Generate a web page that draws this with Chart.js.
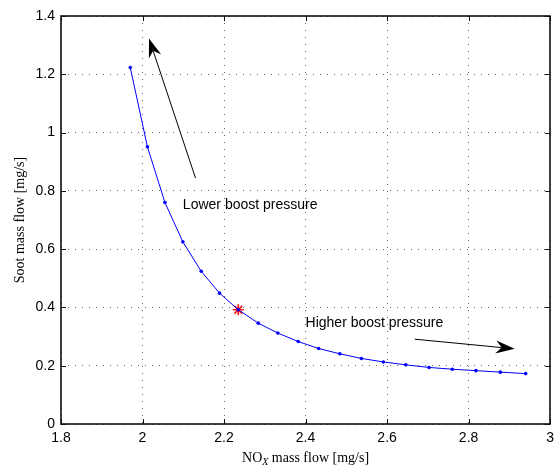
<!DOCTYPE html>
<html>
<head>
<meta charset="utf-8">
<script src="https://cdn.jsdelivr.net/npm/chart.js@4.4.1/dist/chart.umd.min.js"></script>
<style>
  html, body { margin: 0; padding: 0; background: #fff; }
  #wrap { width: 560px; height: 469px; }
</style>
</head>
<body>
<div id="wrap"><canvas id="chart" width="560" height="469"></canvas></div>
<script>
// NOx / soot trade-off
const noxFlow = [1.970, 2.012, 2.055, 2.099, 2.144, 2.189, 2.235, 2.284, 2.332, 2.382,
  2.432, 2.484, 2.537, 2.591, 2.646, 2.703, 2.760, 2.818, 2.878, 2.940];
const sootFlow = [1.223, 0.951, 0.760, 0.625, 0.524, 0.449, 0.392, 0.346, 0.312, 0.283,
  0.259, 0.241, 0.225, 0.213, 0.203, 0.194, 0.188, 0.183, 0.178, 0.173];

// operating point (red star)
const markedNox = [2.235];
const markedSoot = [0.392];

// annotations: [tailX, tailY, headX, headY]
const arrowLower = [2.130, 0.844, 2.016, 1.323];
const arrowHigher = [2.668, 0.291, 2.913, 0.258];
const labelLower = ["Lower boost pressure", 2.099, 0.751];
const labelHigher = ["Higher boost pressure", 2.400, 0.346];

const xTitle = ["NO", "X", " mass flow [mg/s]"];
const yTitle = "Soot mass flow [mg/s]";

function toPoints(xs, ys) {
  return xs.map((x, i) => ({ x: x, y: ys[i] }));
}

function fmt(v) {
  return String(Math.round(v * 10) / 10);
}

function drawArrow(ctx, x1, y1, x2, y2) {
  const ang = Math.atan2(y2 - y1, x2 - x1);
  const len = 19, half = 6.5, back = 13;
  ctx.save();
  ctx.strokeStyle = "#000";
  ctx.fillStyle = "#000";
  ctx.lineWidth = 1;
  ctx.beginPath();
  ctx.moveTo(x1, y1);
  ctx.lineTo(x2 - Math.cos(ang) * back, y2 - Math.sin(ang) * back);
  ctx.stroke();
  ctx.translate(x2, y2);
  ctx.rotate(ang);
  ctx.beginPath();
  ctx.moveTo(0, 0);
  ctx.lineTo(-len, -half);
  ctx.lineTo(-back, 0);
  ctx.lineTo(-len, half);
  ctx.closePath();
  ctx.fill();
  ctx.restore();
}

const framePlugin = {
  id: "frame",
  afterDraw(chart) {
    const ctx = chart.ctx;
    const a = chart.chartArea;
    const xs = chart.scales.x, ys = chart.scales.y;

    ctx.save();
    // box
    ctx.strokeStyle = "#111";
    ctx.lineWidth = 1.6;
    ctx.strokeRect(Math.round(a.left), Math.round(a.top),
      Math.round(a.right - a.left), Math.round(a.bottom - a.top));
    // inner ticks on all sides
    ctx.lineWidth = 1;
    ctx.beginPath();
    xs.ticks.forEach(t => {
      const px = Math.round(xs.getPixelForValue(t.value)) + 0.5;
      ctx.moveTo(px, a.bottom); ctx.lineTo(px, a.bottom - 5);
      ctx.moveTo(px, a.top); ctx.lineTo(px, a.top + 5);
    });
    ys.ticks.forEach(t => {
      const py = Math.round(ys.getPixelForValue(t.value)) + 0.5;
      ctx.moveTo(a.left, py); ctx.lineTo(a.left + 5, py);
      ctx.moveTo(a.right, py); ctx.lineTo(a.right - 5, py);
    });
    ctx.stroke();

    // arrows
    [arrowLower, arrowHigher].forEach(ar => {
      drawArrow(ctx,
        xs.getPixelForValue(ar[0]), ys.getPixelForValue(ar[1]),
        xs.getPixelForValue(ar[2]), ys.getPixelForValue(ar[3]));
    });

    // text labels
    ctx.fillStyle = "#000";
    ctx.font = "14px 'Liberation Sans', Arial, sans-serif";
    ctx.textAlign = "left";
    ctx.textBaseline = "middle";
    [labelLower, labelHigher].forEach(l => {
      ctx.fillText(l[0], xs.getPixelForValue(l[1]), ys.getPixelForValue(l[2]));
    });

    // x title with subscript
    const serif = "'Liberation Serif', 'Times New Roman', serif";
    const big = "14px " + serif, small = "italic 10px " + serif;
    ctx.font = big;
    const w0 = ctx.measureText(xTitle[0]).width;
    const w2 = ctx.measureText(xTitle[2]).width;
    ctx.font = small;
    const w1 = ctx.measureText(xTitle[1]).width;
    const total = w0 + w1 + w2;
    let tx = (a.left + a.right) / 2 - total / 2;
    const ty = 462;
    ctx.textBaseline = "alphabetic";
    ctx.font = big;
    ctx.fillText(xTitle[0], tx, ty);
    tx += w0;
    ctx.font = small;
    ctx.fillText(xTitle[1], tx, ty + 3);
    tx += w1;
    ctx.font = big;
    ctx.fillText(xTitle[2], tx, ty);

    // y title
    ctx.translate(20, (a.top + a.bottom) / 2);
    ctx.rotate(-Math.PI / 2);
    ctx.textAlign = "center";
    ctx.textBaseline = "middle";
    ctx.font = big;
    ctx.fillText(yTitle, 0, 0);
    ctx.restore();
  }
};

const gridStyle = {
  color: "rgba(0,0,0,0.6)",
  lineWidth: 1,
  drawTicks: false
};

new Chart(document.getElementById("chart").getContext("2d"), {
  type: "scatter",
  data: {
    datasets: [
      {
        label: "Trade-off",
        data: toPoints(noxFlow, sootFlow),
        showLine: true,
        borderColor: "#0000ff",
        backgroundColor: "#0000ff",
        borderWidth: 1,
        pointRadius: 1.8,
        pointBorderWidth: 0,
        tension: 0
      },
      {
        label: "Marked",
        data: toPoints(markedNox, markedSoot),
        showLine: false,
        pointStyle: "star",
        pointRadius: 5.5,
        borderColor: "#ff1010",
        backgroundColor: "#ff1010",
        pointBorderWidth: 1.6
      }
    ]
  },
  options: {
    responsive: false,
    animation: false,
    layout: { padding: { top: 16, right: 5, left: 0, bottom: 0 } },
    plugins: {
      legend: { display: false },
      tooltip: { enabled: false }
    },
    scales: {
      x: {
        type: "linear",
        min: 1.8,
        max: 3,
        ticks: {
          stepSize: 0.2,
          padding: 6,
          color: "#000",
          font: { family: "'Liberation Sans', Arial, sans-serif", size: 14 },
          callback: fmt
        },
        grid: gridStyle,
        border: { display: false, dash: [1, 6] },
        afterFit(s) { s.height = 45; }
      },
      y: {
        type: "linear",
        min: 0,
        max: 1.4,
        ticks: {
          stepSize: 0.2,
          padding: 6,
          color: "#000",
          font: { family: "'Liberation Sans', Arial, sans-serif", size: 14 },
          callback: fmt
        },
        grid: gridStyle,
        border: { display: false, dash: [1, 6] },
        afterFit(s) { s.width = 61; }
      }
    }
  },
  plugins: [framePlugin]
});
</script>
</body>
</html>
